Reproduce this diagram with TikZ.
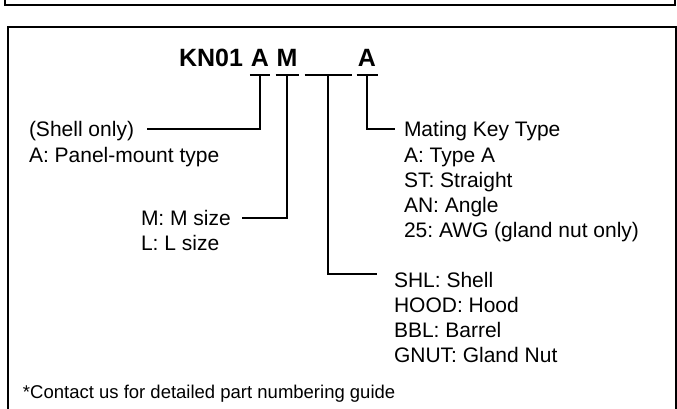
\documentclass[tikz,border=0pt]{standalone}
\usepackage{fontspec}
\setmainfont{Liberation Sans}
\usetikzlibrary{positioning}
\frenchspacing

\begin{document}
\begin{tikzpicture}[x=1pt,y=-1pt,line width=2pt,
  frame/.style={draw,line width=2.4pt},
  lead/.style={line width=2pt},
  field/.style={font=\fontsize{25}{28}\selectfont\bfseries,inner sep=0pt,text depth=7pt,anchor=base},
  txt/.style={font=\fontsize{21}{25}\selectfont,inner sep=0pt,text height=15pt,text depth=0pt,anchor=base west},
  note/.style={font=\fontsize{18.5}{22}\selectfont,inner sep=0pt,anchor=base west}]
  \useasboundingbox (0,0) rectangle (677,409);
  % outer frames
  \draw[frame] (5,-10) rectangle (675,5);
  \draw[frame] (8,27) rectangle (676,430);
  % part number
  \node[field,anchor=base west] (kn) at (178,67) {KN01};
  \node[field,minimum width=18pt] (fa) at (260,67) {A};
  \node[field,minimum width=21pt] (fm) at (287,67) {M};
  \node[field,minimum width=45pt] (fb) at (328,67) {\strut};
  \node[field,minimum width=19pt] (fk) at (367,67) {A};
  \draw (fa.south west) -- (fa.south east);
  \draw (fm.south west) -- (fm.south east);
  \draw (fb.south west) -- (fb.south east);
  \draw (fk.south west) -- (fk.south east);
  % left side
  \node[txt] (shell) at (28,137) {(Shell only)};
  \node[txt] (panel) at ([yshift=-25pt]shell.base west) {A: Panel-mount type};
  \node[txt] (msize) at (140,225) {M: M size};
  \node[txt] (lsize) at ([yshift=-25pt]msize.base west) {L: L size};
  % right side
  \node[txt] (mkey) at (403,137) {Mating Key Type};
  \node[txt] (typea) at ([yshift=-25pt]mkey.base west) {A: Type A};
  \node[txt] (strt) at ([yshift=-25pt]typea.base west) {ST: Straight};
  \node[txt] (angl) at ([yshift=-25pt]strt.base west) {AN: Angle};
  \node[txt] (awg) at ([yshift=-25pt]angl.base west) {25: AWG (gland nut only)};
  \node[txt] (shl) at (393,287) {SHL: Shell};
  \node[txt] (hood) at ([yshift=-25pt]shl.base west) {HOOD: Hood};
  \node[txt] (bbl) at ([yshift=-25pt]hood.base west) {BBL: Barrel};
  \node[txt] (gnut) at ([yshift=-25pt]bbl.base west) {GNUT: Gland Nut};
  \node[note] (contact) at (22,398) {*Contact us for detailed part numbering guide};
  % leaders
  \draw[lead] (fa.south) |- ([xshift=12pt]shell.east);
  \draw[lead] (fm.south) |- ([xshift=10pt]msize.east);
  \draw[lead] (fb.south) |- ([xshift=-16pt,yshift=6pt]shl.west);
  \draw[lead] (fk.south) |- ([xshift=-8pt]mkey.west);
\end{tikzpicture}
\end{document}
